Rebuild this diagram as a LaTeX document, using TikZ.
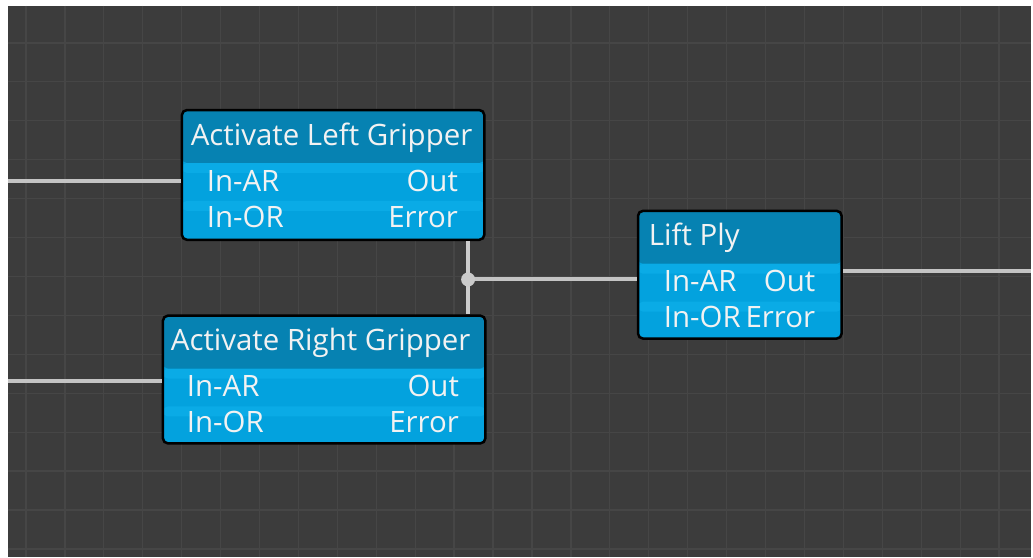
\documentclass[tikz,border=0pt]{standalone}
\usepackage{fontspec}
\setmainfont{Open Sans}
\usetikzlibrary{positioning}

\definecolor{canvas}{HTML}{3C3C3C}
\definecolor{gridgray}{HTML}{464646}
\definecolor{headblue}{HTML}{0682B2}
\definecolor{rowblue}{HTML}{03A2DE}
\definecolor{rowlight}{HTML}{0AABE6}
\definecolor{wire}{HTML}{C4C4C4}
\definecolor{labelwhite}{HTML}{F2F2F2}

\newcommand{\labelsize}{\fontsize{29.5}{32}\selectfont}

\begin{document}
\begin{tikzpicture}
                \tikzset{x=1pt, y=-1pt}
                \tikzstyle{block}=[rectangle, draw=black, line width=2.5pt, rounded corners=5pt,
                        fill=rowblue, anchor=north west, inner sep=0pt,
                        path picture={
                            \fill[rowlight] ([yshift=-53pt]path picture bounding box.north west)
                                rectangle ([yshift=-63pt]path picture bounding box.north east);
                            \fill[rowlight] ([yshift=-91pt]path picture bounding box.north west)
                                rectangle ([yshift=-101pt]path picture bounding box.north east);
                            \fill[headblue] (path picture bounding box.north west)
                                rectangle ([yshift=-53pt]path picture bounding box.north east);
                        }]
                \tikzstyle{title}=[text=labelwhite, font=\labelsize, anchor=base west, inner sep=0pt]
                \tikzstyle{inport}=[title]
                \tikzstyle{outport}=[title, anchor=base east]
                \tikzstyle{link}=[draw=wire, line width=4pt]

                % canvas and grid
                \fill[white] (0,0) rectangle (1033,558);
                \fill[canvas] (8,6) rectangle (1033,558);
                \foreach \gx in {26,65,...,1033} \draw[gridgray, line width=1.3pt] (\gx,6) -- (\gx,558);
                \foreach \gy in {43,82,...,558} \draw[gridgray, line width=1.3pt] (8,\gy) -- (1033,\gy);

                % blocks
                \draw (181,109)     node[block, minimum width=303, minimum height=130]  (alg)   {};
                \draw (162,315)     node[block, minimum width=323, minimum height=128]  (arg)   {};
                \draw (638,210)     node[block, minimum width=204, minimum height=128]  (lift)  {};

                \draw (191,146)     node[title]     (alg-t)     {Activate Left Gripper};
                \draw (207,192)     node[inport]    (alg-ar)    {In-AR};
                \draw (207,228)     node[inport]    (alg-or)    {In-OR};
                \draw (459,192)     node[outport]   (alg-out)   {Out};
                \draw (459,228)     node[outport]   (alg-err)   {Error};

                \draw (171,351)     node[title]     (arg-t)     {Activate Right Gripper};
                \draw (187,397)     node[inport]    (arg-ar)    {In-AR};
                \draw (187,433)     node[inport]    (arg-or)    {In-OR};
                \draw (460,397)     node[outport]   (arg-out)   {Out};
                \draw (460,433)     node[outport]   (arg-err)   {Error};

                \draw (650,246)     node[title]     (lift-t)    {Lift Ply};
                \draw (665,292)     node[inport]    (lift-ar)   {In-AR};
                \draw (665,328)     node[inport]    (lift-or)   {In-OR};
                \draw (817,292)     node[outport]   (lift-out)  {Out};
                \draw (817,328)     node[outport]   (lift-err)  {Error};

                % wires
                \coordinate (srcl) at (8,181);
                \coordinate (srcr) at (8,382);
                \coordinate (sink) at (1033,272);
                \coordinate (jpt)  at (469,280);

                \draw [link]        (srcl) -- (srcl -| alg.west);
                \draw [link]        (srcr) -- (srcr -| arg.west);
                \draw [link, draw=wire!85]  (alg.south -| jpt) -- (arg.north -| jpt);
                \draw [link]        (jpt) -- (jpt -| lift.west);
                \draw [link]        (lift.east |- sink) -- (sink);
                \draw (jpt)         node[circle, fill=wire!90, inner sep=0pt, minimum size=14pt] (junc) {};
            \end{tikzpicture}
\end{document}
